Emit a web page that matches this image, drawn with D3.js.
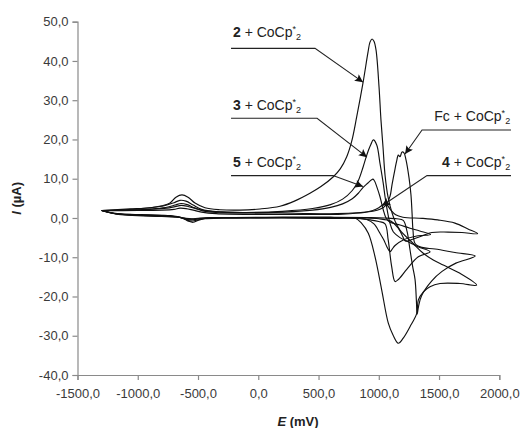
<!DOCTYPE html>
<html><head><meta charset="utf-8">
<script src="https://cdn.jsdelivr.net/npm/d3@7"></script>
<style>
html,body{margin:0;padding:0;background:#fff;}
svg{display:block;font-family:"Liberation Sans",Arial,sans-serif;}
</style></head><body>
<svg id="chart" width="521" height="428"></svg>
<script>
// ---- axis ticks ----
const xTicks = [-1500, -1000, -500, 0, 500, 1000, 1500, 2000];
const yTicks = [-40, -30, -20, -10, 0, 10, 20, 30, 40, 50];

// ---- curve 2 + CoCp*2 (E in mV, I in µA) ----
const c2E = [-1300,-1190,-1060,-900,-730,-630,-580,-540,-500,-440,-300,0,350,650,803,858,913,969,1024,1079,1118,1162,1203,1259,1315,1328,1370,1425,1508,1674,1812,
  1674,1535,1452,1369,1286,1176,1135,1110,1077,1052,1035,1018,1002,977,960,944,927,911,869,817,775,734,680,623,520,429,300,180,14,-152,-318,-442,-525,-583,-633,-683,-732,-799,-898,-1064,-1300];
const c2I = [1.9,1.2,0.9,0.8,0.6,0.0,-0.8,-1.1,-0.6,-0.1,0.1,0.1,0.0,-0.1,0.0,-1.4,-3.9,-9.9,-18.3,-26.8,-29.8,-31.9,-30.6,-27.7,-24.3,-20.9,-18.8,-17.5,-16.7,-16.7,-17.1,
  -14.1,-12.0,-10.7,-9.0,-6.5,-3.1,-0.8,1.3,5.3,10.9,18.1,25.0,33.4,42.8,45.0,45.6,44.8,42.3,34.4,25.8,19.5,15.6,12.5,10.5,8.0,6.3,4.3,3.0,2.3,2.0,2.1,2.6,3.8,5.3,5.9,5.3,3.8,3.1,2.6,2.3,1.9];

// ---- curve 3 + CoCp*2 ----
const c3E = [-1300,-1180,-1000,-800,-660,-600,-560,-520,-450,-300,0,400,700,850,930,1000,1052,1078,1107,1135,1165,1232,1328,1425,
  1330,1260,1176,1120,1090,1070,1052,1037,1010,983,955,935,915,895,870,830,780,700,600,450,200,-100,-350,-470,-540,-600,-650,-700,-780,-900,-1100,-1300];
const c3I = [1.9,1.1,0.8,0.6,0.2,-0.4,-0.8,-0.6,-0.2,0.0,0.1,0.1,0.0,-0.2,-0.5,-0.9,-1.5,-5.6,-12.4,-16.2,-15.6,-13.1,-9.9,-8.6,
  -7.4,-6.3,-5.0,-3.5,-1.0,2.0,5.4,8.8,13.9,18.6,19.9,18.8,17.3,15.5,13.0,9.5,7.0,4.8,3.4,2.4,1.7,1.4,1.6,2.2,3.3,4.3,4.5,3.9,3.1,2.6,2.1,1.9];

// ---- curve Fc + CoCp*2 ----
const cFcE = [-1300,-1180,-1000,-800,-680,-610,-560,-510,-430,-200,200,600,900,1050,1150,1203,1235,1259,1282,1301,1312,1318,1330,1355,1440,1525,1640,1800,
  1632,1467,1357,1301,1284,1276,1267,1251,1226,1209,1193,1176,1162,1148,1135,1110,1093,1060,1010,950,850,650,300,0,-300,-450,-530,-590,-640,-690,-750,-850,-1000,-1300];
const cFcI = [1.9,1.0,0.7,0.5,0.3,-0.2,-0.5,-0.3,0.0,0.1,0.2,0.2,0.1,0.0,-0.2,-0.6,-3.5,-8.1,-12.5,-15.7,-21.0,-24.5,-22.5,-19.8,-16.0,-13.6,-11.5,-9.7,
  -8.8,-7.9,-7.5,-6.5,-3.2,1.3,5.9,10.2,14.8,16.6,16.8,15.6,16.0,14.5,12.5,8.5,5.5,3.3,2.2,1.7,1.4,1.1,1.2,1.3,1.5,1.9,2.6,3.4,3.7,3.3,2.8,2.4,2.1,1.9];

// ---- curve 5 + CoCp*2 ----
const c5E = [-1300,-1170,-1000,-800,-680,-620,-570,-520,-430,0,500,800,900,960,1010,1040,1070,1093,1110,1135,1203,1315,1430,
  1340,1259,1176,1090,1060,1037,1010,983,965,952,935,910,870,830,780,700,600,450,200,-100,-350,-460,-530,-590,-640,-690,-760,-900,-1100,-1300];
const c5I = [1.9,1.0,0.7,0.5,0.3,0.0,-0.3,-0.2,0.0,0.1,0.1,0.0,-0.4,-1.5,-3.9,-5.5,-7.5,-8.6,-8.0,-7.0,-5.6,-4.6,-4.2,
  -3.3,-2.6,-1.8,-1.0,0.0,2.1,5.4,8.0,9.4,9.9,9.6,8.9,7.8,6.3,4.9,3.6,2.7,2.0,1.5,1.3,1.4,1.8,2.5,3.0,3.2,2.9,2.5,2.2,2.0,1.9];

// ---- curve 4 + CoCp*2 ----
const c4E = [-1300,-1160,-1000,-800,-660,-600,-550,-480,0,500,900,1000,1100,1160,1200,1218,1240,1275,1357,1440,1574,1690,1820,
  1740,1632,1490,1360,1200,1140,1100,1070,1050,1030,1000,950,880,700,400,0,-350,-470,-540,-600,-650,-700,-800,-1000,-1300];
const c4I = [1.9,0.9,0.6,0.4,0.2,-0.1,-0.2,0.0,0.0,0.0,0.0,-0.2,-0.8,-2.5,-4.8,-5.8,-5.9,-5.5,-4.6,-3.7,-3.6,-3.7,-4.0,
  -2.8,-1.3,-0.5,-0.1,0.2,0.8,2.0,3.3,3.7,3.3,2.6,1.9,1.4,1.0,0.9,0.9,1.1,1.5,2.0,2.4,2.5,2.2,2.0,1.9,1.9];

// ---- annotation labels (bold part, text anchor in data units, leader line in data units) ----
const labelNames = ["2", "3", "5", "Fc", "4"];
const labelBold  = [true, true, true, false, true];
const labelAnchor = ["start", "start", "start", "end", "end"];
const labelPos = [[-210, 46.1], [-210, 27.6], [-210, 13.1], [2090, 24.8], [2090, 13.1]];
const leaders = [
  [[-226, 43.2], [471, 43.2], [869, 34.6]],
  [[-226, 25.4], [488, 25.4], [902, 15.5]],
  [[-226, 10.8], [620, 10.8], [869, 8.0]],
  [[2097, 22.4], [1359, 22.4], [1218, 16.3]],
  [[2097, 10.8], [1400, 10.8], [1027, 3.1]]
];

// ================= drawing =================
const svg = d3.select("#chart");
const x = d3.scaleLinear().domain([-1500, 2000]).range([77.5, 499.3]);
const y = d3.scaleLinear().domain([-40, 50]).range([375, 21.7]);

const axisColor = "#8a8a8a";
const textColor = "#3a3a3a";
const fmt = d => d3.format(".1f")(Math.abs(d)).replace(".", ",").replace(/^/, d < 0 ? "-" : "");

// y axis
const yAxis = svg.append("g").attr("transform", `translate(${x(-1500)},0)`)
  .call(d3.axisLeft(y).tickValues(yTicks).tickSize(5).tickPadding(4).tickFormat(fmt));
// x axis
const xAxis = svg.append("g").attr("transform", `translate(0,${y(-40)})`)
  .call(d3.axisBottom(x).tickValues(xTicks).tickSize(5).tickPadding(9).tickFormat(fmt));
[yAxis, xAxis].forEach(g => {
  g.select(".domain").attr("stroke", axisColor).attr("stroke-width", 1.2);
  g.selectAll(".tick line").attr("stroke", axisColor).attr("stroke-width", 1.2);
  g.selectAll("text").attr("fill", textColor).style("font-size", "13px")
    .style("font-family", '"Liberation Sans", Arial, sans-serif');
});

// axis titles
const yt = svg.append("text").attr("transform", `translate(21,${y(5)}) rotate(-90)`)
  .attr("text-anchor", "middle").attr("font-size", 13).attr("font-weight", "bold").attr("fill", "#222");
yt.append("tspan").attr("font-style", "italic").text("I");
yt.append("tspan").text(" (µA)");
const xt = svg.append("text").attr("x", 298).attr("y", 426)
  .attr("text-anchor", "middle").attr("font-size", 13).attr("font-weight", "bold").attr("fill", "#222");
xt.append("tspan").attr("font-style", "italic").text("E");
xt.append("tspan").text(" (mV)");

// curves
const curves = [[c2E, c2I], [c3E, c3I], [cFcE, cFcI], [c5E, c5I], [c4E, c4I]];
const line = d3.line().x(d => x(d[0])).y(d => y(d[1])).curve(d3.curveCatmullRom.alpha(0.5));
svg.append("g").selectAll("path").data(curves).join("path")
  .attr("d", c => line(c[0].map((e, i) => [e, c[1][i]])))
  .attr("fill", "none").attr("stroke", "#111").attr("stroke-width", 1.15)
  .attr("stroke-linejoin", "round");

// arrow marker
svg.append("defs").append("marker").attr("id", "arr")
  .attr("viewBox", "0 0 10 10").attr("refX", 10).attr("refY", 5)
  .attr("markerWidth", 10).attr("markerHeight", 8).attr("markerUnits", "userSpaceOnUse")
  .attr("orient", "auto")
  .append("path").attr("d", "M0,0 L10,5 L0,10 L2,5 Z").attr("fill", "#111");

const lead = d3.line().x(d => x(d[0])).y(d => y(d[1]));
svg.append("g").selectAll("path").data(leaders).join("path")
  .attr("d", lead).attr("fill", "none").attr("stroke", "#222").attr("stroke-width", 1.1)
  .attr("marker-end", "url(#arr)");

// labels
labelNames.forEach((nm, i) => {
  const t = svg.append("text").attr("x", x(labelPos[i][0])).attr("y", y(labelPos[i][1]))
    .attr("text-anchor", labelAnchor[i]).attr("font-size", 14).attr("fill", "#222");
  t.append("tspan").attr("font-weight", labelBold[i] ? "bold" : "normal").text(nm);
  t.append("tspan").text(" + CoCp");
  t.append("tspan").attr("font-size", 9).attr("dy", -5).text("*");
  t.append("tspan").attr("font-size", 9).attr("dy", 8).text("2");
});
</script>
</body></html>
